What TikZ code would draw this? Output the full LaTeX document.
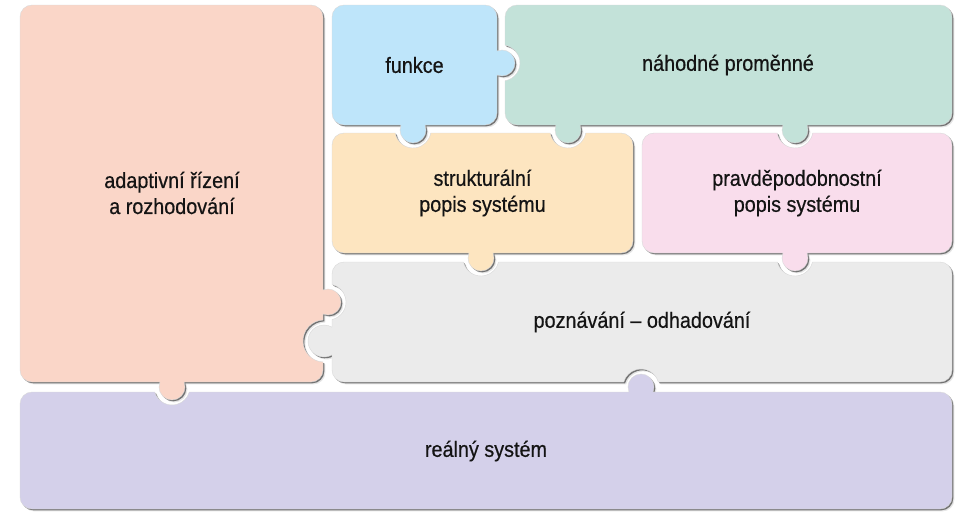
\documentclass[tikz,border=0pt]{standalone}
\usepackage{fontspec}
\setmainfont{Liberation Sans}[FakeStretch=0.9,FakeBold=0.5]
\definecolor{cPink}{RGB}{250,214,200}
\definecolor{cBlue}{RGB}{190,229,250}
\definecolor{cGreen}{RGB}{195,226,217}
\definecolor{cOrange}{RGB}{253,229,192}
\definecolor{cPinkB}{RGB}{249,221,236}
\definecolor{cGray}{RGB}{235,235,235}
\definecolor{cPurple}{RGB}{212,208,234}
\definecolor{cText}{RGB}{20,20,20}
% tab: centre x, centre y, outward angle, centre offset beyond edge, radius
\newcommand\ptab[5]{-- ({#1+(#5)*cos(#3-acos(-(#4)/(#5)))},{#2+(#5)*sin(#3-acos(-(#4)/(#5)))}) arc[start angle={#3-acos(-(#4)/(#5))}, end angle={#3+acos(-(#4)/(#5))}, radius=#5]}
% socket: centre x, centre y, outward angle, centre offset beyond edge, radius
\newcommand\psock[5]{-- ({#1+(#5)*cos(#3+180+acos((#4)/(#5)))},{#2+(#5)*sin(#3+180+acos((#4)/(#5)))}) arc[start angle={#3+180+acos((#4)/(#5))}, end angle={#3+180-acos((#4)/(#5))}, radius=#5]}
% piece: style, x1, y1, x2, y2, top, right, bottom, left
\newcommand\piece[9]{%
\path[#1] ({#2+12},#3) #6 -- ({#4-12},#3) arc[start angle=270,end angle=360,radius=12]
 #7 -- (#4,{#5-12}) arc[start angle=0,end angle=90,radius=12]
 #8 -- ({#2+12},#5) arc[start angle=90,end angle=180,radius=12]
 #9 -- (#2,{#3+12}) arc[start angle=180,end angle=270,radius=12] -- cycle;}
\tikzset{
  puzzle/.style={fill=#1, draw=black!15, line width=0.4pt,
    preaction={fill=black!10, transform canvas={xshift=2.4pt,yshift=-2.4pt}},
    preaction={fill=black!55, transform canvas={xshift=1.3pt,yshift=-1.3pt}}},
  lbl/.style={text=cText, font=\fontsize{22}{26}\selectfont, align=center}
}
\begin{document}
\begin{tikzpicture}[x=1pt,y=-1pt]
\useasboundingbox (0,0) rectangle (962,512);
% adaptivni rizeni
\piece{puzzle=cPink}{20}{5}{323}{382}{}%
 {\ptab{328}{302}{0}{5}{13} \psock{324}{341}{0}{1}{21}}%
 {\ptab{172}{387}{90}{5}{13}}{}
% funkce
\piece{puzzle=cBlue}{332}{5}{497}{125}{}%
 {\ptab{502}{63}{0}{5}{13}}{\ptab{413}{130}{90}{5}{13}}{}
% nahodne promenne
\piece{puzzle=cGreen}{505}{5}{952}{125}{}{}%
 {\ptab{795}{130}{90}{5}{13} \ptab{568}{130}{90}{5}{13}}%
 {\psock{502}{63}{180}{3}{18}}
% strukturalni
\piece{puzzle=cOrange}{332}{133}{633}{253}%
 {\psock{413}{130}{270}{3}{18} \psock{568}{130}{270}{3}{18}}{}%
 {\ptab{481}{258}{90}{5}{13}}{}
% pravdepodobnostni
\piece{puzzle=cPinkB}{642}{133}{952}{253}%
 {\psock{795}{130}{270}{3}{18}}{}%
 {\ptab{795}{258}{90}{5}{13}}{}
% poznavani
\piece{puzzle=cGray}{332}{262}{952}{382}%
 {\psock{481}{258}{270}{4}{18} \psock{795}{258}{270}{4}{18}}{}%
 {\psock{641}{387}{90}{5}{18}}%
 {\ptab{324}{341}{180}{8}{16} \psock{328}{302}{180}{4}{18}}
% realny system
\piece{puzzle=cPurple}{20}{392}{952}{509}%
 {\psock{172}{387}{270}{5}{18} \ptab{641}{387}{270}{5}{13}}{}{}{}
% labels
\node[lbl] (tA) at (172,193) {adaptivní řízení\\a rozhodování};
\node[lbl] (tB) at (414.5,65) {funkce};
\node[lbl] (tC) at (728,65) {náhodné proměnné};
\node[lbl] (tD) at (482.5,193) {strukturální\\popis systému};
\node[lbl] (tE) at (797,193) {pravděpodobnostní\\popis systému};
\node[lbl] (tF) at (642,322) {poznávání – odhadování};
\node[lbl] (tG) at (486,451) {reálný systém};
\end{tikzpicture}
\end{document}
